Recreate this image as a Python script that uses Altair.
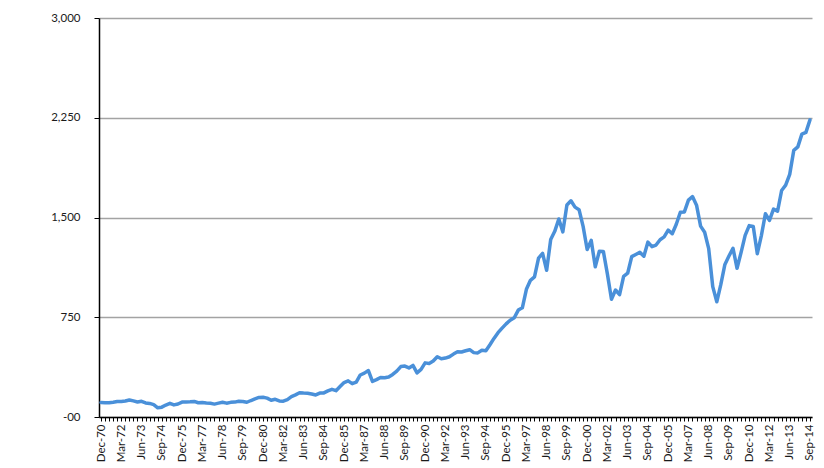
import altair as alt
import pandas as pd

# Quarter-end index values, Dec-70 ... Sep-14 (176 quarters)
values = [
    109, 108, 107, 111, 116, 116, 120, 128, 121, 113, 118, 106,
    102, 93, 69, 74, 90, 103, 91, 98, 112, 113, 114, 117,
    107, 109, 105, 103, 97, 104, 111, 104, 110, 112, 119, 117,
    111, 124, 136, 147, 148, 142, 126, 133, 121, 119, 131, 153,
    166, 182, 180, 179, 173, 166, 180, 181, 196, 208, 198, 229,
    259, 272, 251, 263, 316, 330, 349, 268, 281, 297, 295, 301,
    320, 345, 379, 383, 369, 388, 332, 358, 407, 403, 421, 453,
    438, 443, 453, 473, 490, 489, 498, 506, 484, 482, 502, 498,
    543, 591, 634, 668, 700, 728, 746, 804, 821, 960, 1028, 1053,
    1195, 1230, 1103, 1334, 1396, 1489, 1392, 1594, 1626, 1578, 1559, 1433,
    1259, 1328, 1129, 1246, 1245, 1074, 885, 955, 920, 1057, 1081, 1206,
    1222, 1238, 1209, 1315, 1281, 1293, 1333, 1354, 1405, 1378, 1449, 1539,
    1542, 1631, 1657, 1593, 1435, 1389, 1266, 980, 866, 997, 1147, 1210,
    1269, 1118, 1238, 1365, 1439, 1433, 1228, 1364, 1528, 1478, 1563, 1547,
    1703, 1743, 1824, 2005, 2031, 2127, 2140, 2234,
]

quarter_months = ["Dec", "Mar", "Jun", "Sep"]
quarters = [
    f"{quarter_months[i % 4]}-{(70 + (i + 3) // 4) % 100:02d}" for i in range(len(values))
]

tick_labels = [
    "Dec-70", "Mar-72", "Jun-73", "Sep-74", "Dec-75", "Mar-77", "Jun-78", "Sep-79",
    "Dec-80", "Mar-82", "Jun-83", "Sep-84", "Dec-85", "Mar-87", "Jun-88", "Sep-89",
    "Dec-90", "Mar-92", "Jun-93", "Sep-94", "Dec-95", "Mar-97", "Jun-98", "Sep-99",
    "Dec-00", "Mar-02", "Jun-03", "Sep-04", "Dec-05", "Mar-07", "Jun-08", "Sep-09",
    "Dec-10", "Mar-12", "Jun-13", "Sep-14",
]

y_ticks = [0, 750, 1500, 2250, 3000]

df = pd.DataFrame({"quarter": quarters, "value": values})

label_array = "[" + ",".join(f"'{t}'" for t in tick_labels) + "]"

FONT = "Lato"
TEXT = "#1a1a1a"

chart = (
    alt.Chart(df)
    .mark_line(color="#4a90d9", strokeWidth=3.5, strokeJoin="round", strokeCap="round")
    .encode(
        x=alt.X(
            "quarter:N",
            sort=quarters,
            scale=alt.Scale(type="point", padding=0.5),
            axis=alt.Axis(
                title=None,
                labelAngle=270,
                labelAlign="right",
                labelBaseline="middle",
                labelExpr=f"indexof({label_array}, datum.value) >= 0 ? datum.value : ''",
                labelOverlap=False,
                labelFont=FONT,
                labelFontSize=11.5,
                labelColor=TEXT,
                labelPadding=3,
                tickSize=4,
                tickColor="black",
                domainColor="black",
                domainWidth=1.5,
                grid=False,
            ),
        ),
        y=alt.Y(
            "value:Q",
            scale=alt.Scale(domain=[0, 3000], nice=False),
            axis=alt.Axis(
                title=None,
                values=y_ticks,
                labelExpr="datum.value == 0 ? '-00' : format(datum.value, ',')",
                labelFont=FONT,
                labelFontSize=11.5,
                labelColor=TEXT,
                labelPadding=14,
                tickSize=5,
                tickColor="black",
                domainColor="black",
                domainWidth=1.5,
                grid=True,
                gridColor="#a3a3a3",
                gridWidth=1.5,
            ),
        ),
    )
    .properties(
        width=713,
        height=399,
        autosize=alt.AutoSizeParams(type="none"),
        padding={"left": 91, "top": 10, "right": 4, "bottom": 46},
        background="white",
    )
    .configure_view(stroke=None)
)

chart.save("out.html", embed_options={"renderer": "svg", "actions": False})
